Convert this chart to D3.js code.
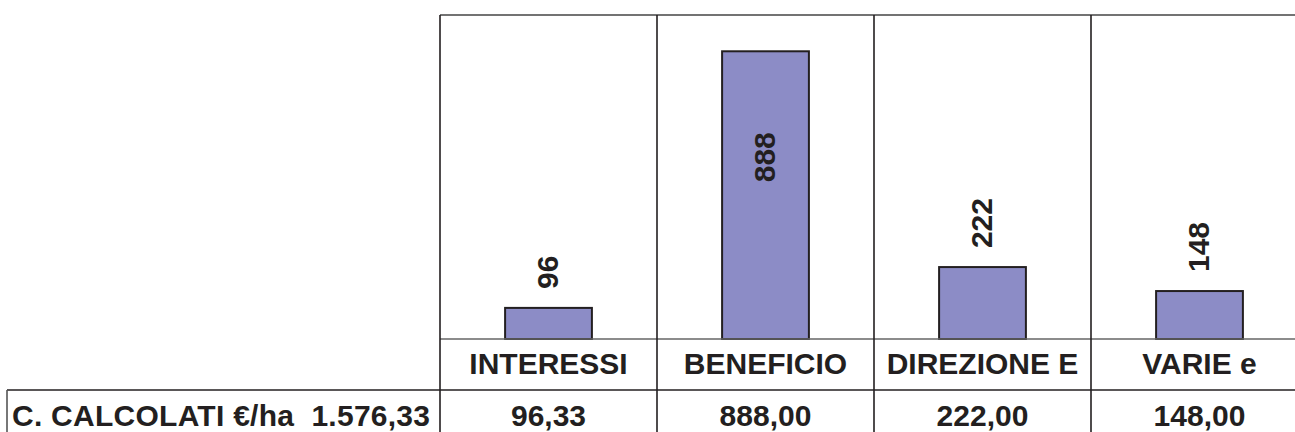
<!DOCTYPE html>
<html>
<head>
<meta charset="utf-8">
<script src="https://cdn.jsdelivr.net/npm/d3@7"></script>
<style>
  html, body { margin: 0; padding: 0; background: #fff; }
  svg { display: block; }
  text { font-family: "Liberation Sans", Arial, sans-serif; font-weight: bold; fill: #231f20; }
</style>
</head>
<body>
<script>
const categories = ["INTERESSI", "BENEFICIO", "DIREZIONE E", "VARIE e"];
const values = [96, 888, 222, 148];
const tableValues = ["96,33", "888,00", "222,00", "148,00"];
const rowTitle = "C. CALCOLATI €/ha  1.576,33";
const yMax = 1000;

const W = 1295, H = 432;
const svg = d3.select("body").append("svg").attr("width", W).attr("height", H);

const plotLeft = 440, plotRight = 1308, plotTop = 15, baseY = 339, rowY = 390, tableLeft = 7;

const x = d3.scaleBand().domain(categories).range([plotLeft, plotRight]).padding(0);
const y = d3.scaleLinear().domain([0, yMax]).range([baseY, plotTop]);
const barW = x.bandwidth() * 0.4;

// bars
svg.append("g").selectAll("rect").data(values).join("rect")
  .attr("x", (d, i) => x(categories[i]) + (x.bandwidth() - barW) / 2)
  .attr("y", d => y(d))
  .attr("width", barW)
  .attr("height", d => y(0) - y(d))
  .attr("fill", "#8c8cc6")
  .attr("stroke", "#231f20")
  .attr("stroke-width", 2);

// grid lines
const g = svg.append("g");
g.append("line").attr("x1", plotLeft).attr("x2", W).attr("y1", plotTop).attr("y2", plotTop)
  .attr("stroke", "#444").attr("stroke-width", 1.6);
g.append("line").attr("x1", plotLeft).attr("x2", W).attr("y1", baseY).attr("y2", baseY)
  .attr("stroke", "#666").attr("stroke-width", 1.6);
g.append("line").attr("x1", tableLeft).attr("x2", W).attr("y1", rowY).attr("y2", rowY)
  .attr("stroke", "#231f20").attr("stroke-width", 1.6);
g.append("line").attr("x1", tableLeft).attr("x2", tableLeft).attr("y1", rowY).attr("y2", H)
  .attr("stroke", "#555").attr("stroke-width", 1.6);
g.selectAll("line.v").data(categories).join("line").attr("class", "v")
  .attr("x1", d => x(d)).attr("x2", d => x(d))
  .attr("y1", plotTop).attr("y2", H)
  .attr("stroke", "#231f20").attr("stroke-width", 1.6);

// value labels (rotated)
const fontSize = 30;
svg.append("g").selectAll("text").data(values).join("text")
  .attr("transform", (d, i) => {
    const cx = x(categories[i]) + x.bandwidth() / 2 - 1;
    const top = y(d);
    const len = String(d).length * fontSize * 0.556;
    const fitsAbove = top - 19 - len > plotTop;
    const yb = fitsAbove ? top - 19 : top + 131;
    return `translate(${cx},${yb}) rotate(-90)`;
  })
  .attr("dy", "0.36em")
  .attr("font-size", fontSize)
  .text(d => d);

// category labels
svg.append("g").selectAll("text").data(categories).join("text")
  .attr("x", d => x(d) + x.bandwidth() / 2)
  .attr("y", 374)
  .attr("text-anchor", "middle")
  .attr("font-size", fontSize)
  .text(d => d);

// table values
svg.append("g").selectAll("text").data(tableValues).join("text")
  .attr("x", (d, i) => x(categories[i]) + x.bandwidth() / 2)
  .attr("y", 426)
  .attr("text-anchor", "middle")
  .attr("font-size", fontSize)
  .text(d => d);

svg.append("text")
  .attr("x", 12).attr("y", 426)
  .attr("font-size", fontSize)
  .attr("textLength", 418)
  .attr("lengthAdjust", "spacing")
  .style("white-space", "pre")
  .text(rowTitle);
</script>
</body>
</html>
